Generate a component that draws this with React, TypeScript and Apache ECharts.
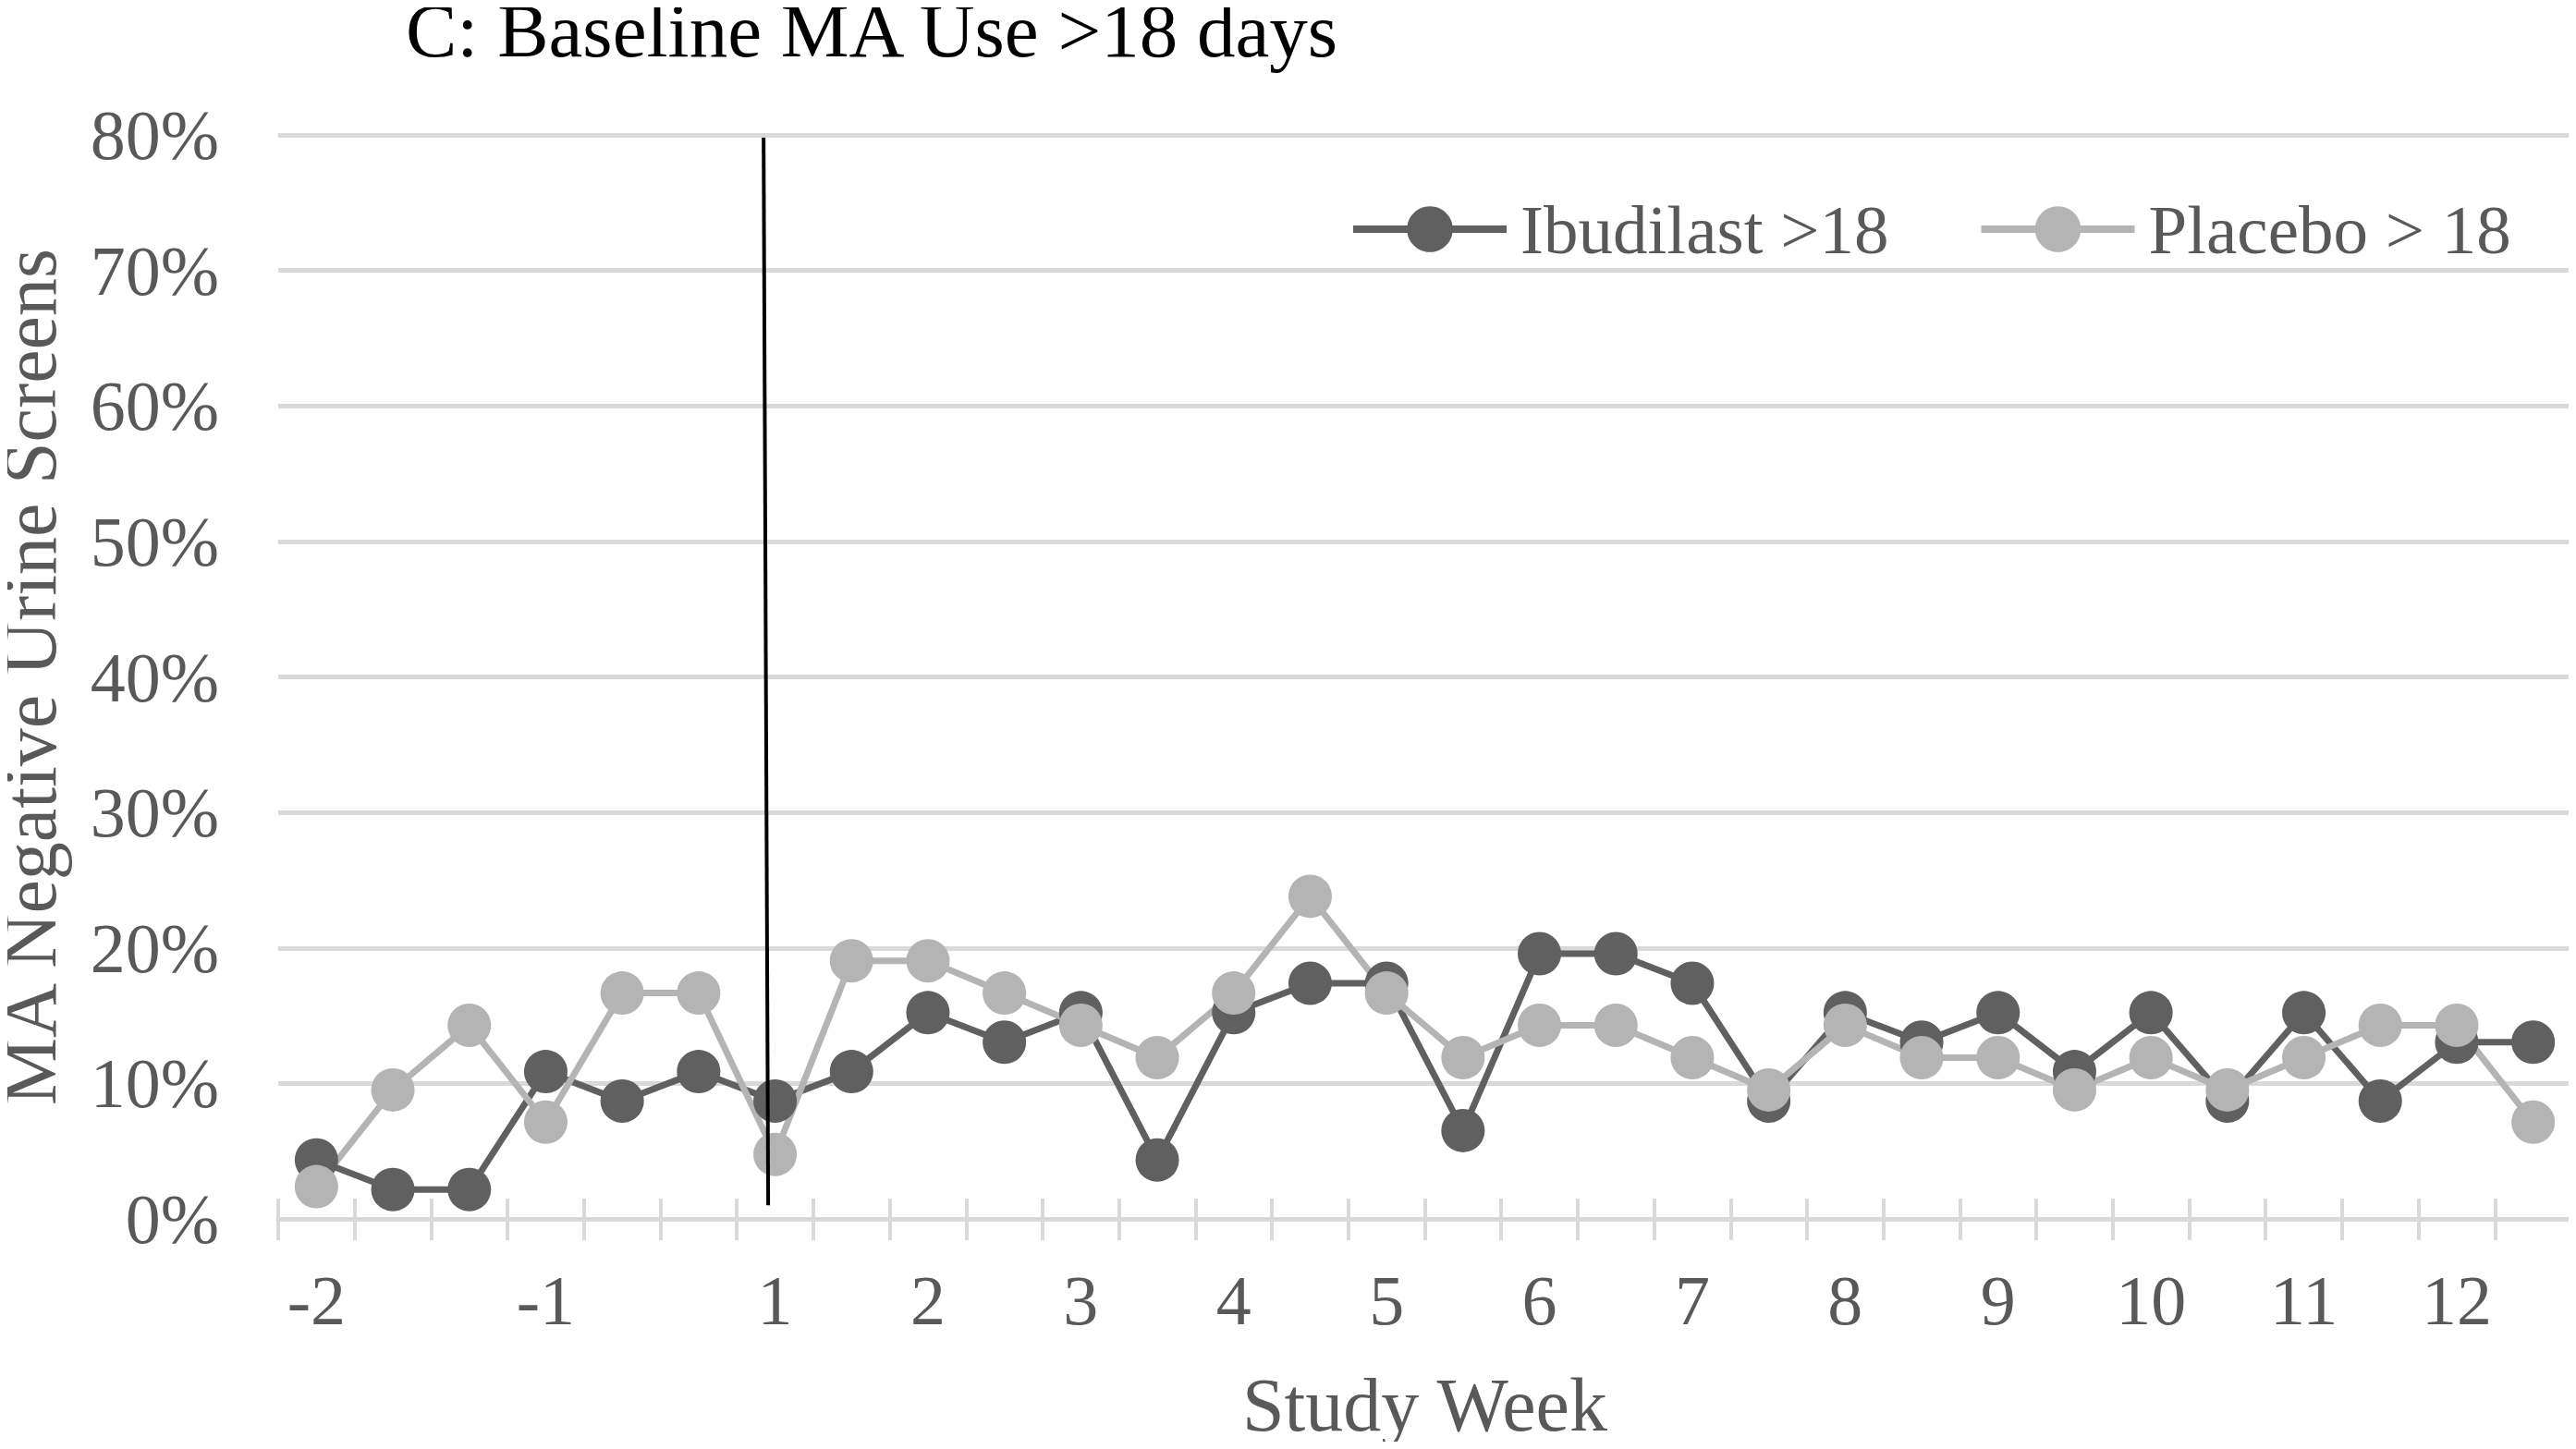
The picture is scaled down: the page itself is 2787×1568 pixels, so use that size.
import React, { useEffect, useRef } from "react";
import * as echarts from "echarts";

const categories = ["-2", "", "", "-1", "", "", "1", "", "2", "", "3", "", "4", "", "5", "", "6", "", "7", "", "8", "", "9", "", "10", "", "11", "", "12", ""];
const ibudilast = [4.35, 2.17, 2.17, 10.87, 8.7, 10.87, 8.7, 10.87, 15.22, 13.04, 15.22, 4.35, 15.22, 17.39, 17.39, 6.52, 19.57, 19.57, 17.39, 8.7, 15.22, 13.04, 15.22, 10.87, 15.22, 8.7, 15.22, 8.7, 13.04, 13.04];
const placebo = [2.38, 9.52, 14.29, 7.14, 16.67, 16.67, 4.76, 19.05, 19.05, 16.67, 14.29, 11.9, 16.67, 23.81, 16.67, 11.9, 14.29, 14.29, 11.9, 9.52, 14.29, 11.9, 11.9, 9.52, 11.9, 9.52, 11.9, 14.29, 14.29, 7.14];
const seriesNames = ["Ibudilast >18", "Placebo > 18"];
const title = "C: Baseline MA Use >18 days";
const yName = "MA Negative Urine Screens";
const xName = "Study Week";

const FONT = "'Liberation Serif', 'Times New Roman', serif";
const GREY_TEXT = "#595959";
const DARK = "#606060";
const LIGHT = "#b4b4b4";
const GRID = "#d9d9d9";

export default function App() {
  const ref = useRef<HTMLDivElement>(null);
  useEffect(() => {
    if (!ref.current) return;
    const chart = echarts.init(ref.current, null, { renderer: "svg" });
    const option: any = {
      animation: false,
      backgroundColor: "#ffffff",
      title: {
        text: title,
        left: 434,
        top: -14,
        textStyle: { fontFamily: FONT, fontSize: 83, fontWeight: "normal", color: "#000000" },
      },
      legend: {
        left: 1455,
        top: 205,
        itemWidth: 166,
        itemHeight: 62,
        itemGap: 96,
        lineStyle: { width: 8 },
        textStyle: { fontFamily: FONT, fontSize: 75, lineHeight: 76, color: GREY_TEXT, padding: [0, 0, 0, 10] },
        data: seriesNames,
      },
      grid: { left: 301, right: 5, top: 146, bottom: 249, containLabel: false, outerBoundsMode: "none" },
      xAxis: [
        {
          type: "category",
          data: categories,
          boundaryGap: true,
          position: "bottom",
          name: xName,
          nameLocation: "middle",
          nameGap: 160,
          nameTextStyle: { fontFamily: FONT, fontSize: 82, color: GREY_TEXT },
          axisLine: { show: true, lineStyle: { color: GRID, width: 5 } },
          axisTick: { show: true, interval: 0, length: 23, lineStyle: { color: GRID, width: 4 } },
          axisLabel: { interval: 0, fontFamily: FONT, fontSize: 76, color: GREY_TEXT, margin: 50 },
          splitLine: { show: false },
        },
        {
          type: "category",
          data: categories,
          boundaryGap: true,
          position: "bottom",
          axisLine: { show: false },
          axisTick: { show: true, inside: true, interval: 0, length: 22, lineStyle: { color: GRID, width: 4 } },
          axisLabel: { show: false },
          splitLine: { show: false },
        },
      ],
      yAxis: {
        type: "value",
        min: 0,
        max: 80,
        interval: 10,
        name: yName,
        nameLocation: "middle",
        nameGap: 228,
        nameTextStyle: { fontFamily: FONT, fontSize: 82, color: GREY_TEXT },
        axisLine: { show: false },
        axisTick: { show: false },
        axisLabel: { formatter: "{value}%", fontFamily: FONT, fontSize: 76, color: GREY_TEXT, margin: 64 },
        splitLine: { show: true, lineStyle: { color: GRID, width: 5 } },
      },
      series: [
        {
          name: seriesNames[0],
          type: "line",
          data: ibudilast,
          symbol: "circle",
          symbolSize: 47,
          lineStyle: { color: DARK, width: 7 },
          itemStyle: { color: DARK },
        },
        {
          name: seriesNames[1],
          type: "line",
          data: placebo,
          symbol: "circle",
          symbolSize: 47,
          lineStyle: { color: LIGHT, width: 7 },
          itemStyle: { color: LIGHT },
        },
      ],
    };
    chart.setOption(option);
    const x6 = chart.convertToPixel({ xAxisIndex: 0 }, 6) as number;
    const x7 = chart.convertToPixel({ xAxisIndex: 0 }, 7) as number;
    const w = x7 - x6;
    const yTop = chart.convertToPixel({ yAxisIndex: 0 }, 79.8) as number;
    const yBot = chart.convertToPixel({ yAxisIndex: 0 }, 1) as number;
    chart.setOption({
      graphic: [
        {
          type: "line",
          z: 100,
          shape: { x1: x6 - 0.15 * w, y1: yTop, x2: x6 - 0.09 * w, y2: yBot },
          style: { stroke: "#000000", lineWidth: 4 },
        },
      ],
    });
    return () => chart.dispose();
  }, []);
  return <div ref={ref} style={{ width: 2787, height: 1568, margin: -8 }} />;
}
